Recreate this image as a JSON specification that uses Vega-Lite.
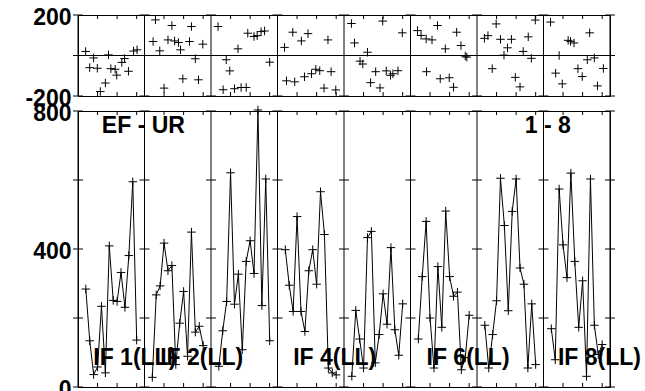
{
  "$schema": "https://vega.github.io/schema/vega-lite/v6.json",
  "background": "white",
  "padding": {"left": 5, "top": 5, "right": 5, "bottom": 5},
  "spacing": -12,
  "config": {
    "view": {"stroke": "black", "strokeWidth": 1},
    "axis": {"labelFont": "Liberation Sans", "labelFontWeight": "bold", "labelFontSize": 23, "labelColor": "black", "domain": false, "grid": false, "tickColor": "black"}
  },
  "datasets": {
    "top": [
      {"x": 1.96, "v": 20}, {"x": 2.98, "v": -60}, {"x": 4.0, "v": -12}, {"x": 4.94, "v": -63}, {"x": 5.7, "v": -178}, {"x": 7.0, "v": -136}, {"x": 7.8, "v": 3}, {"x": 8.4, "v": -65}, {"x": 9.5, "v": -68}, {"x": 9.9, "v": -97}, {"x": 11.2, "v": -34}, {"x": 11.9, "v": -15}, {"x": 12.9, "v": -78}, {"x": 14.2, "v": 22}, {"x": 15.1, "v": 28},
      {"x": 19.2, "v": 69}, {"x": 19.8, "v": 176}, {"x": 20.9, "v": 23}, {"x": 22.0, "v": -161}, {"x": 23.0, "v": 77}, {"x": 24.0, "v": 148}, {"x": 24.7, "v": 72}, {"x": 25.7, "v": 64}, {"x": 26.2, "v": 28}, {"x": 26.8, "v": -115}, {"x": 28.5, "v": 69}, {"x": 29.0, "v": 143}, {"x": 30.0, "v": -16}, {"x": 30.8, "v": -120}, {"x": 31.9, "v": 56},
      {"x": 35.8, "v": 143}, {"x": 37.1, "v": -169}, {"x": 37.9, "v": -21}, {"x": 38.8, "v": -76}, {"x": 40.0, "v": -164}, {"x": 40.9, "v": 33}, {"x": 41.7, "v": -158}, {"x": 43.0, "v": -158}, {"x": 43.4, "v": 110}, {"x": 45.0, "v": 94}, {"x": 45.8, "v": 98}, {"x": 46.8, "v": 118}, {"x": 47.7, "v": 121}, {"x": 49.0, "v": -33},
      {"x": 52.8, "v": 40}, {"x": 53.3, "v": -125}, {"x": 54.9, "v": 115}, {"x": 55.4, "v": -130}, {"x": 57.1, "v": 72}, {"x": 57.9, "v": -105}, {"x": 58.8, "v": 108}, {"x": 59.7, "v": -90}, {"x": 60.8, "v": -68}, {"x": 61.8, "v": -75}, {"x": 62.9, "v": -161}, {"x": 63.9, "v": 77}, {"x": 64.7, "v": -80}, {"x": 65.9, "v": -170},
      {"x": 69.9, "v": 158}, {"x": 70.7, "v": 62}, {"x": 72.1, "v": -28}, {"x": 72.8, "v": -42}, {"x": 74.0, "v": 16}, {"x": 74.8, "v": -134}, {"x": 76.1, "v": -80}, {"x": 77.2, "v": -160}, {"x": 77.9, "v": 170}, {"x": 78.8, "v": -76}, {"x": 79.9, "v": -98}, {"x": 80.5, "v": -90}, {"x": 81.8, "v": -75}, {"x": 82.9, "v": 112},
      {"x": 86.8, "v": 123}, {"x": 87.7, "v": 99}, {"x": 89.0, "v": 82}, {"x": 89.1, "v": -80}, {"x": 90.5, "v": 77}, {"x": 91.9, "v": 148}, {"x": 92.6, "v": -115}, {"x": 93.9, "v": 33}, {"x": 94.9, "v": -110}, {"x": 96.0, "v": -157}, {"x": 96.8, "v": 115}, {"x": 97.9, "v": 49}, {"x": 99.0, "v": -3}, {"x": 99.4, "v": -8},
      {"x": 103.9, "v": 85}, {"x": 104.8, "v": 98}, {"x": 105.9, "v": -65}, {"x": 106.9, "v": 156}, {"x": 108.0, "v": 80}, {"x": 108.9, "v": 2}, {"x": 109.8, "v": 38}, {"x": 110.8, "v": 80}, {"x": 111.8, "v": -108}, {"x": 113.0, "v": -155}, {"x": 113.8, "v": 20}, {"x": 115.1, "v": 92}, {"x": 115.9, "v": -14}, {"x": 116.9, "v": 175},
      {"x": 120.8, "v": 165}, {"x": 122.1, "v": -87}, {"x": 123.0, "v": 0}, {"x": 123.8, "v": -140}, {"x": 125.3, "v": 75}, {"x": 125.9, "v": 70}, {"x": 126.8, "v": 62}, {"x": 127.8, "v": -65}, {"x": 128.9, "v": -104}, {"x": 130.2, "v": -21}, {"x": 130.8, "v": 112}, {"x": 132.0, "v": -12}, {"x": 132.8, "v": -150}, {"x": 134.3, "v": -64}
    ],
    "bottom": [
      {"panel": 1, "x": 2, "v": 284}, {"panel": 1, "x": 3, "v": 134}, {"panel": 1, "x": 4, "v": 36}, {"panel": 1, "x": 5, "v": 58}, {"panel": 1, "x": 6, "v": 234}, {"panel": 1, "x": 7, "v": 41}, {"panel": 1, "x": 8, "v": 409}, {"panel": 1, "x": 9, "v": 251}, {"panel": 1, "x": 10, "v": 248}, {"panel": 1, "x": 11, "v": 332}, {"panel": 1, "x": 12, "v": 231}, {"panel": 1, "x": 13, "v": 381}, {"panel": 1, "x": 14, "v": 595}, {"panel": 1, "x": 15, "v": 136},
      {"panel": 2, "x": 19, "v": 28}, {"panel": 2, "x": 20, "v": 267}, {"panel": 2, "x": 21, "v": 293}, {"panel": 2, "x": 22, "v": 417}, {"panel": 2, "x": 23, "v": 337}, {"panel": 2, "x": 24, "v": 352}, {"panel": 2, "x": 25, "v": 65}, {"panel": 2, "x": 26, "v": 185}, {"panel": 2, "x": 27, "v": 277}, {"panel": 2, "x": 28, "v": 89}, {"panel": 2, "x": 29, "v": 449}, {"panel": 2, "x": 30, "v": 159}, {"panel": 2, "x": 31, "v": 176}, {"panel": 2, "x": 32, "v": 120},
      {"panel": 3, "x": 36, "v": 60}, {"panel": 3, "x": 37, "v": 163}, {"panel": 3, "x": 38, "v": 248}, {"panel": 3, "x": 39, "v": 621}, {"panel": 3, "x": 40, "v": 240}, {"panel": 3, "x": 41, "v": 327}, {"panel": 3, "x": 42, "v": 108}, {"panel": 3, "x": 43, "v": 364}, {"panel": 3, "x": 44, "v": 424}, {"panel": 3, "x": 45, "v": 329}, {"panel": 3, "x": 46, "v": 803}, {"panel": 3, "x": 47, "v": 236}, {"panel": 3, "x": 48, "v": 603}, {"panel": 3, "x": 49, "v": 134},
      {"panel": 4, "x": 53, "v": 398}, {"panel": 4, "x": 54, "v": 295}, {"panel": 4, "x": 55, "v": 219}, {"panel": 4, "x": 56, "v": 494}, {"panel": 4, "x": 57, "v": 219}, {"panel": 4, "x": 58, "v": 161}, {"panel": 4, "x": 59, "v": 337}, {"panel": 4, "x": 60, "v": 398}, {"panel": 4, "x": 61, "v": 298}, {"panel": 4, "x": 62, "v": 566}, {"panel": 4, "x": 63, "v": 442}, {"panel": 4, "x": 64, "v": 55}, {"panel": 4, "x": 65, "v": 41}, {"panel": 4, "x": 66, "v": 35},
      {"panel": 5, "x": 70, "v": 31}, {"panel": 5, "x": 71, "v": 222}, {"panel": 5, "x": 72, "v": 139}, {"panel": 5, "x": 73, "v": 55}, {"panel": 5, "x": 74, "v": 433}, {"panel": 5, "x": 75, "v": 451}, {"panel": 5, "x": 76, "v": 70}, {"panel": 5, "x": 77, "v": 152}, {"panel": 5, "x": 78, "v": 270}, {"panel": 5, "x": 79, "v": 182}, {"panel": 5, "x": 80, "v": 404}, {"panel": 5, "x": 81, "v": 166}, {"panel": 5, "x": 82, "v": 92}, {"panel": 5, "x": 83, "v": 241},
      {"panel": 6, "x": 87, "v": 139}, {"panel": 6, "x": 88, "v": 320}, {"panel": 6, "x": 89, "v": 480}, {"panel": 6, "x": 90, "v": 200}, {"panel": 6, "x": 91, "v": 55}, {"panel": 6, "x": 92, "v": 349}, {"panel": 6, "x": 93, "v": 173}, {"panel": 6, "x": 94, "v": 510}, {"panel": 6, "x": 95, "v": 320}, {"panel": 6, "x": 96, "v": 263}, {"panel": 6, "x": 97, "v": 275}, {"panel": 6, "x": 98, "v": 50}, {"panel": 6, "x": 99, "v": 85}, {"panel": 6, "x": 100, "v": 208},
      {"panel": 7, "x": 104, "v": 179}, {"panel": 7, "x": 105, "v": 55}, {"panel": 7, "x": 106, "v": 152}, {"panel": 7, "x": 107, "v": 250}, {"panel": 7, "x": 108, "v": 605}, {"panel": 7, "x": 109, "v": 468}, {"panel": 7, "x": 110, "v": 221}, {"panel": 7, "x": 111, "v": 509}, {"panel": 7, "x": 112, "v": 603}, {"panel": 7, "x": 113, "v": 345}, {"panel": 7, "x": 114, "v": 298}, {"panel": 7, "x": 115, "v": 55}, {"panel": 7, "x": 116, "v": 241}, {"panel": 7, "x": 117, "v": 65},
      {"panel": 8, "x": 121, "v": 169}, {"panel": 8, "x": 122, "v": 79}, {"panel": 8, "x": 123, "v": 574}, {"panel": 8, "x": 124, "v": 412}, {"panel": 8, "x": 125, "v": 317}, {"panel": 8, "x": 126, "v": 620}, {"panel": 8, "x": 127, "v": 364}, {"panel": 8, "x": 128, "v": 173}, {"panel": 8, "x": 129, "v": 308}, {"panel": 8, "x": 130, "v": 31}, {"panel": 8, "x": 131, "v": 603}, {"panel": 8, "x": 132, "v": 179}, {"panel": 8, "x": 133, "v": 94}, {"panel": 8, "x": 134, "v": 123}
    ],
    "minor": [
      {"x": 5}, {"x": 10}, {"x": 15}, {"x": 22}, {"x": 27}, {"x": 32}, {"x": 39}, {"x": 44}, {"x": 49}, {"x": 56}, {"x": 61}, {"x": 66},
      {"x": 73}, {"x": 78}, {"x": 83}, {"x": 90}, {"x": 95}, {"x": 100}, {"x": 107}, {"x": 112}, {"x": 117}, {"x": 124}, {"x": 129}, {"x": 134}
    ],
    "edgesTop": [
      {"x": 0, "levels": [-200, 0, 200]}, {"x": 17, "levels": [-200, 0, 200]}, {"x": 34, "levels": [-200, 0, 200]}, {"x": 51, "levels": [-200, 0, 200]}, {"x": 68, "levels": [-200, 0, 200]}, {"x": 85, "levels": [-200, 0, 200]}, {"x": 102, "levels": [-200, 0, 200]}, {"x": 119, "levels": [-200, 0, 200]}, {"x": 136, "levels": [-200, 0, 200]}
    ],
    "edgesBottom": [
      {"x": 0, "levels": [0, 200, 400, 600, 800]}, {"x": 17, "levels": [0, 200, 400, 600, 800]}, {"x": 34, "levels": [0, 200, 400, 600, 800]}, {"x": 51, "levels": [0, 200, 400, 600, 800]}, {"x": 68, "levels": [0, 200, 400, 600, 800]}, {"x": 85, "levels": [0, 200, 400, 600, 800]}, {"x": 102, "levels": [0, 200, 400, 600, 800]}, {"x": 119, "levels": [0, 200, 400, 600, 800]}, {"x": 136, "levels": [0, 200, 400, 600, 800]}
    ],
    "notes": [
      {"text": "EF - UR", "x": 6.1, "v": 735},
      {"text": "1 - 8", "x": 114.2, "v": 735},
      {"text": "IF 1(LL)", "x": 3.9, "v": 63},
      {"text": "IF 2(LL)", "x": 21.0, "v": 63},
      {"text": "IF 4(LL)", "x": 55.0, "v": 63},
      {"text": "IF 6(LL)", "x": 89.1, "v": 63},
      {"text": "IF 8(LL)", "x": 122.7, "v": 63}
    ]
  },
  "vconcat": [
    {
      "width": 532,
      "height": 81,
      "layer": [
        {
          "data": {"name": "top"},
          "mark": {"type": "point", "shape": "M-1,0H1M0,-1V1", "size": 72, "filled": false, "stroke": "black", "strokeWidth": 1, "opacity": 1},
          "encoding": {
            "x": {"field": "x", "type": "quantitative", "scale": {"domain": [0, 136], "nice": false, "zero": false},
                  "axis": {"title": null, "labels": false, "ticks": false, "minExtent": 0, "maxExtent": 0}},
            "y": {"field": "v", "type": "quantitative", "scale": {"domain": [-200, 200], "nice": false, "zero": false},
                  "axis": {"title": null, "values": [-200, 200], "labelExpr": "'' + datum.value", "ticks": false, "labelPadding": 7, "labelOffset": 2, "minExtent": 72, "maxExtent": 72}}
          }
        },
        {
          "data": {"name": "edgesTop"},
          "mark": {"type": "rule", "color": "black", "strokeWidth": 1},
          "encoding": {
            "x": {"field": "x", "type": "quantitative"}
          }
        },
        {
          "data": {"values": [{}]},
          "mark": {"type": "rule", "color": "black", "strokeWidth": 1},
          "encoding": {"y": {"datum": 0, "type": "quantitative"}}
        },
        {
          "data": {"name": "edgesTop"},
          "transform": [{"flatten": ["levels"]}],
          "mark": {"type": "point", "shape": "M-1,0H1", "size": 100, "filled": false, "stroke": "black", "strokeWidth": 1, "opacity": 1},
          "encoding": {
            "x": {"field": "x", "type": "quantitative"},
            "y": {"field": "levels", "type": "quantitative"}
          }
        },
        {
          "data": {"name": "minor"},
          "mark": {"type": "point", "shape": "M0,0V1", "size": 64, "filled": false, "stroke": "black", "strokeWidth": 1, "opacity": 1},
          "encoding": {
            "x": {"field": "x", "type": "quantitative"},
            "y": {"datum": 200, "type": "quantitative"}
          }
        },
        {
          "data": {"name": "minor"},
          "mark": {"type": "point", "shape": "M0,-1V0", "size": 64, "filled": false, "stroke": "black", "strokeWidth": 1, "opacity": 1},
          "encoding": {
            "x": {"field": "x", "type": "quantitative"},
            "y": {"datum": -200, "type": "quantitative"}
          }
        }
      ]
    },
    {
      "width": 532,
      "height": 276,
      "layer": [
        {
          "data": {"name": "bottom"},
          "mark": {"type": "line", "color": "black", "strokeWidth": 1},
          "encoding": {
            "x": {"field": "x", "type": "quantitative", "scale": {"domain": [0, 136], "nice": false, "zero": false},
                  "axis": {"title": null, "labels": false, "ticks": false, "minExtent": 0, "maxExtent": 0}},
            "y": {"field": "v", "type": "quantitative", "scale": {"domain": [0, 800], "nice": false, "zero": false},
                  "axis": {"title": null, "values": [0, 400, 800], "ticks": false, "labelPadding": 7, "labelOffset": 2, "minExtent": 72, "maxExtent": 72}},
            "detail": {"field": "panel", "type": "nominal"}
          }
        },
        {
          "data": {"name": "edgesBottom"},
          "mark": {"type": "rule", "color": "black", "strokeWidth": 1},
          "encoding": {
            "x": {"field": "x", "type": "quantitative"}
          }
        },
        {
          "data": {"name": "edgesBottom"},
          "transform": [{"flatten": ["levels"]}],
          "mark": {"type": "point", "shape": "M-1,0H1", "size": 100, "filled": false, "stroke": "black", "strokeWidth": 1, "opacity": 1},
          "encoding": {
            "x": {"field": "x", "type": "quantitative"},
            "y": {"field": "levels", "type": "quantitative"}
          }
        },
        {
          "data": {"name": "minor"},
          "mark": {"type": "point", "shape": "M0,0V1", "size": 64, "filled": false, "stroke": "black", "strokeWidth": 1, "opacity": 1},
          "encoding": {
            "x": {"field": "x", "type": "quantitative"},
            "y": {"datum": 800, "type": "quantitative"}
          }
        },
        {
          "data": {"name": "minor"},
          "mark": {"type": "point", "shape": "M0,-1V0", "size": 64, "filled": false, "stroke": "black", "strokeWidth": 1, "opacity": 1},
          "encoding": {
            "x": {"field": "x", "type": "quantitative"},
            "y": {"datum": 0, "type": "quantitative"}
          }
        },
        {
          "data": {"name": "bottom"},
          "mark": {"type": "point", "shape": "M-1,0H1M0,-1V1", "size": 72, "filled": false, "stroke": "black", "strokeWidth": 1, "opacity": 1},
          "encoding": {
            "x": {"field": "x", "type": "quantitative"},
            "y": {"field": "v", "type": "quantitative"}
          }
        },
        {
          "data": {"name": "notes"},
          "mark": {"type": "text", "align": "left", "baseline": "alphabetic", "font": "Liberation Sans", "fontWeight": "bold", "fontSize": 23, "color": "black"},
          "encoding": {
            "x": {"field": "x", "type": "quantitative"},
            "y": {"field": "v", "type": "quantitative"},
            "text": {"field": "text"}
          }
        }
      ]
    }
  ]
}
